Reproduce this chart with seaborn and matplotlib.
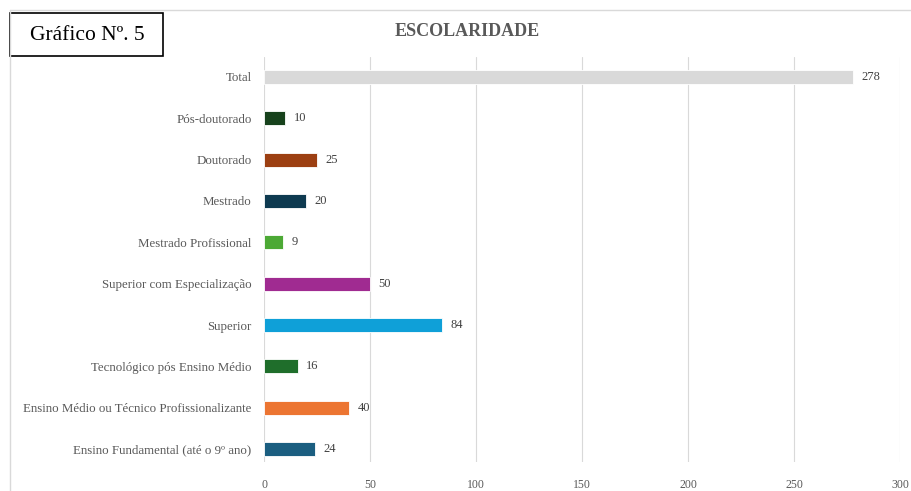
import matplotlib
matplotlib.use("Agg")
import matplotlib.pyplot as plt
import seaborn as sns
import pandas as pd
from matplotlib.patches import Rectangle

categories = ["Total", "Pós-doutorado", "Doutorado", "Mestrado", "Mestrado Profissional",
              "Superior com Especialização", "Superior", "Tecnológico pós Ensino Médio",
              "Ensino Médio ou Técnico Profissionalizante", "Ensino Fundamental (até o 9º ano)"]
values = [278, 10, 25, 20, 9, 50, 84, 16, 40, 24]
colors = ["#d9d9d9", "#17421c", "#9c3f12", "#0e3a50", "#4ca935", "#a02b91",
          "#0fa0d8", "#1f6e2b", "#ec7532", "#1b5e80"]
xticks = [0, 50, 100, 150, 200, 250, 300]

sns.set_theme(style="white")
plt.rcParams['font.family'] = ['Liberation Serif', 'DejaVu Serif']

df = pd.DataFrame({"cat": categories, "val": values})

fig = plt.figure(figsize=(9.12, 4.91), dpi=100)
W, H = 912, 491
ax = fig.add_axes([264 / W, 1 - 462 / H, (900 - 264) / W, (462 - 57) / H])

sns.barplot(data=df, y="cat", x="val", hue="cat", palette=colors, order=categories,
            hue_order=categories, legend=False, width=0.34, ax=ax,
            edgecolor="white", linewidth=0.6, saturation=1)

ax.set_xlim(0, 300)
ax.set_ylim(9.31, -0.48)
ax.set_xticks(xticks)
ax.set_xticklabels([str(t) for t in xticks], fontsize=8.5, color="#595959")
ax.tick_params(axis="x", length=0, pad=12)
ax.tick_params(axis="y", length=0, pad=9)
ax.set_yticklabels(categories, fontsize=9.25, color="#595959")
ax.set_xlabel("")
ax.set_ylabel("")
ax.grid(axis="x", color="#d9d9d9", linewidth=0.8)
ax.set_axisbelow(True)
for s in ax.spines.values():
    s.set_visible(False)

for i, v in enumerate(values):
    ax.text(v + 4, i, str(v), va="center", ha="left", fontsize=9, color="#404040")

fig.text(467 / W, 1 - 31 / H, "ESCOLARIDADE", ha="center", va="center",
         fontsize=13, fontweight="bold", color="#595959")

# outer chart border (left & top)
fig.add_artist(plt.Line2D([10 / W, 10 / W], [0, 1 - 10 / H], color="#d9d9d9", linewidth=1))
fig.add_artist(plt.Line2D([10 / W, 1], [1 - 10 / H, 1 - 10 / H], color="#d9d9d9", linewidth=1))

# label box
fig.add_artist(Rectangle((10 / W, 1 - 56 / H), (163 - 10) / W, (56 - 13) / H,
                         transform=fig.transFigure, facecolor="white",
                         edgecolor="black", linewidth=1.2))
fig.text(87 / W, 1 - 36 / H, "Gráfico Nº. 5", ha="center", va="center",
         fontsize=15.5, color="black")

fig.savefig("out.png", dpi=100)
